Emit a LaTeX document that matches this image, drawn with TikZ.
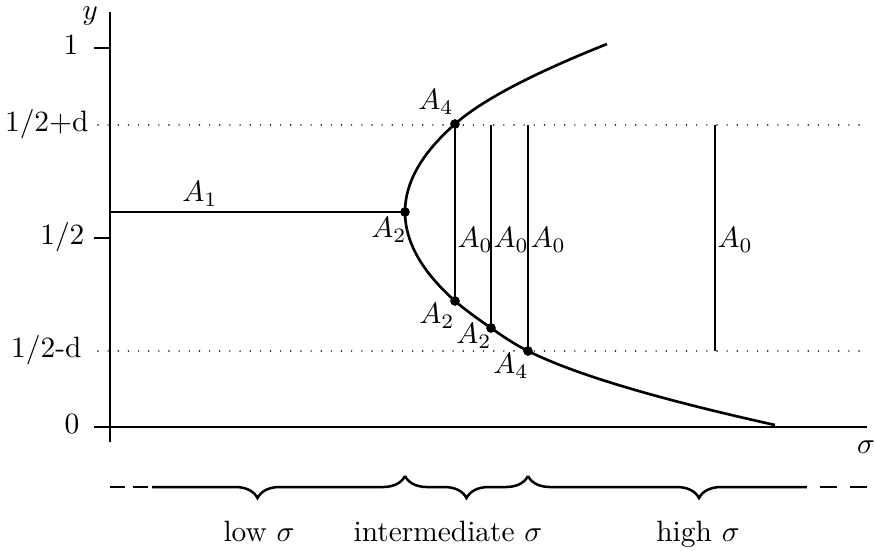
\documentclass[tikz,border=0pt]{standalone}
\usetikzlibrary{decorations.pathreplacing}
\begin{document}
\begin{tikzpicture}[x=0.34pt,y=-0.34pt,
  axis/.style={line width=0.9pt},
  curve/.style={line width=0.9pt},
  vline/.style={line width=0.65pt},
  dotline/.style={line width=0.55pt,line cap=round,dash pattern=on 0pt off 3.45pt},
  ptdot/.style={circle,fill=black,inner sep=0pt,minimum size=3.2pt},
  lbl/.style={inner sep=0pt},
  bracedec/.style={line width=0.85pt,decorate,decoration={brace,mirror,amplitude=7.5pt}}]
\useasboundingbox (0,0) rectangle (875,551);
% axes
\coordinate (ytop) at (110,12);
\coordinate (ybot) at (110,442);
\coordinate (xl) at (94,427);
\coordinate (xr) at (867,427);
\draw[axis] (ybot) -- (ytop);
\draw[axis] (xl) -- (xr);
\coordinate (t1a) at (94,48);  \coordinate (t1b) at (110,48);
\coordinate (thA) at (94,238); \coordinate (thB) at (110,238);
\draw[axis] (t1a) -- (t1b);
\draw[axis] (thA) -- (thB);
% dotted levels
\coordinate (dpa) at (98,125); \coordinate (dpb) at (860,125);
\coordinate (dma) at (98,351); \coordinate (dmb) at (860,351);
\draw[dotline] (dpa) -- (dpb);
\draw[dotline] (dma) -- (dmb);
% tick labels
\node[lbl,anchor=mid east] (l1) at (79,48) {1};
\node[lbl,anchor=mid east] (lpd) at (89,125) {1/2+d};
\node[lbl,anchor=mid east] (lh) at (85,238) {1/2};
\node[lbl,anchor=mid east] (lmd) at (82,351) {1/2-d};
\node[lbl,anchor=mid east] (l0) at (80,427) {0};
\node[lbl] (ylab) at (90,16) {$y$};
\node[lbl] (slab) at (866,447) {$\sigma$};
% points
\node[ptdot] (v) at (405,212) {};
\node[ptdot] (a4t) at (455,124) {};
\node[ptdot] (a2a) at (455,301) {};
\node[ptdot] (a2b) at (491,328) {};
\node[ptdot] (a4b) at (528,351) {};
% curve
\draw[curve] (607,44) .. controls (540.3,70.7) and (485.4,97.3) .. (a4t.center)
  .. controls (421.6,153.3) and (405,182.7) .. (v.center)
  .. controls (405,241.7) and (421.7,271.3) .. (a2a.center)
  .. controls (465.4,310) and (478,319) .. (a2b.center)
  .. controls (502.1,335.7) and (512.7,343.3) .. (a4b.center)
  .. controls (577.3,375.7) and (664,400.3) .. (775,425);
\coordinate (h0) at (110,212);
\coordinate (tb) at (491,125);
\coordinate (tc) at (528,125);
\coordinate (td) at (715,125);
\coordinate (bd) at (715,351);
\draw[curve] (h0) -- (v.center);
\draw[vline] (a4t.center) -- (a2a.center);
\draw[vline] (tb) -- (a2b.center);
\draw[vline] (tc) -- (a4b.center);
\draw[vline] (td) -- (bd);
\node[ptdot] at (v) {};
\node[ptdot] at (a4t) {};
\node[ptdot] at (a2a) {};
\node[ptdot] at (a2b) {};
\node[ptdot] at (a4b) {};
% labels
\node[lbl] (A1) at (200,194) {$A_1$};
\node[lbl] (A2v) at (389,230) {$A_2$};
\node[lbl] (A4t) at (436,102) {$A_4$};
\node[lbl] (A2a) at (437,316) {$A_2$};
\node[lbl] (A2b) at (474,336) {$A_2$};
\node[lbl] (A4b) at (511,366) {$A_4$};
\node[lbl,anchor=west] (A0a) at (457,240) {$A_0$};
\node[lbl,anchor=west] (A0b) at (493,240) {$A_0$};
\node[lbl,anchor=west] (A0c) at (530,240) {$A_0$};
\node[lbl,anchor=west] (A0d) at (717,240) {$A_0$};
% braces
\coordinate (b0) at (110,476);
\coordinate (b1) at (405,476);
\coordinate (b2) at (528,476);
\coordinate (b3) at (870,476);
\draw[bracedec] (b0) -- (b1);
\draw[bracedec] (b1) -- (b2);
\draw[bracedec] (b2) -- (b3);
\fill[white] (98,466) rectangle (152,496);
\fill[white] (807,466) rectangle (875,496);
\coordinate (dl0) at (110,487); \coordinate (dl1) at (152,487);
\coordinate (dr0) at (807,487); \coordinate (dr1) at (867,487);
\draw[dash pattern=on 5.1pt off 2.7pt] (dl0) -- (dl1);
\draw[dash pattern=on 5.8pt off 4.4pt,dash phase=5.8pt] (dr0) -- (dr1);
\node[lbl,anchor=base] (low) at (259,541) {low $\sigma$};
\node[lbl,anchor=base] (mid) at (448,541) {intermediate $\sigma$};
\node[lbl,anchor=base] (high) at (698,541) {high $\sigma$};
\end{tikzpicture}
\end{document}
